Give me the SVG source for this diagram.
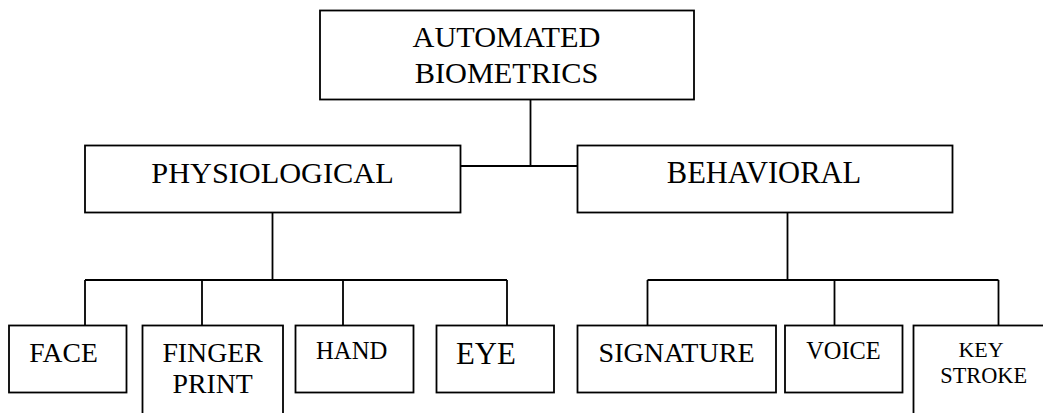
<svg xmlns="http://www.w3.org/2000/svg" width="1043" height="413" viewBox="0 0 1043 413">
<style>
.box{fill:#fff;stroke:#000;stroke-width:1.8}
.ln{fill:none;stroke:#000;stroke-width:1.8}
text{font-family:"Liberation Serif","Times New Roman",serif;fill:#000}
.c{text-anchor:middle}
</style>
<rect width="1043" height="413" fill="#fff"/>
<g id="connectors" class="ln">
<path d="M530.5 99.5V166M460.5 166H577.5"/>
<path d="M272.5 212.5V280M85 280H507M85 280V325.5M202 280V325.5M343 280V325.5M507 280V325.5"/>
<path d="M787.5 212.5V280M647.5 280H998.5M647.5 280V325.5M834.5 280V325.5M998.5 280V325.5"/>
</g>
<g id="automated-biometrics">
<rect class="box" x="320" y="10.5" width="374" height="89"/>
<text class="c" x="506.5" y="46.5" font-size="30.3">AUTOMATED</text>
<text class="c" x="506.5" y="82.5" font-size="30.3">BIOMETRICS</text>
</g>
<g id="physiological">
<rect class="box" x="85" y="145.5" width="375.5" height="67"/>
<text class="c" x="272.5" y="183" font-size="30.3">PHYSIOLOGICAL</text>
</g>
<g id="behavioral">
<rect class="box" x="577.5" y="145.5" width="375" height="67"/>
<text class="c" x="764" y="183" font-size="30.5">BEHAVIORAL</text>
</g>
<g id="face">
<rect class="box" x="9" y="325.5" width="117.5" height="67"/>
<text x="29.3" y="362.3" font-size="27.6">FACE</text>
</g>
<g id="fingerprint">
<rect class="box" x="142.5" y="325.5" width="140.5" height="100"/>
<text class="c" x="212.6" y="361.7" font-size="27.8">FINGER</text>
<text class="c" x="212.6" y="392.7" font-size="27.8">PRINT</text>
</g>
<g id="hand">
<rect class="box" x="295.5" y="325.5" width="118" height="67"/>
<text x="316" y="359" font-size="24.7">HAND</text>
</g>
<g id="eye">
<rect class="box" x="436.5" y="325.5" width="117.5" height="67"/>
<text x="456" y="364.3" font-size="30.8">EYE</text>
</g>
<g id="signature">
<rect class="box" x="577.5" y="325.5" width="198.5" height="67"/>
<text class="c" x="676.6" y="362.3" font-size="28.1">SIGNATURE</text>
</g>
<g id="voice">
<rect class="box" x="785" y="325.5" width="117.5" height="67"/>
<text class="c" x="843.5" y="359" font-size="24.4">VOICE</text>
</g>
<g id="keystroke">
<rect class="box" x="913.5" y="325.5" width="140" height="100"/>
<text class="c" x="981" y="356.7" font-size="22">KEY</text>
<text class="c" x="983.7" y="382.7" font-size="22.3">STROKE</text>
</g>
</svg>
